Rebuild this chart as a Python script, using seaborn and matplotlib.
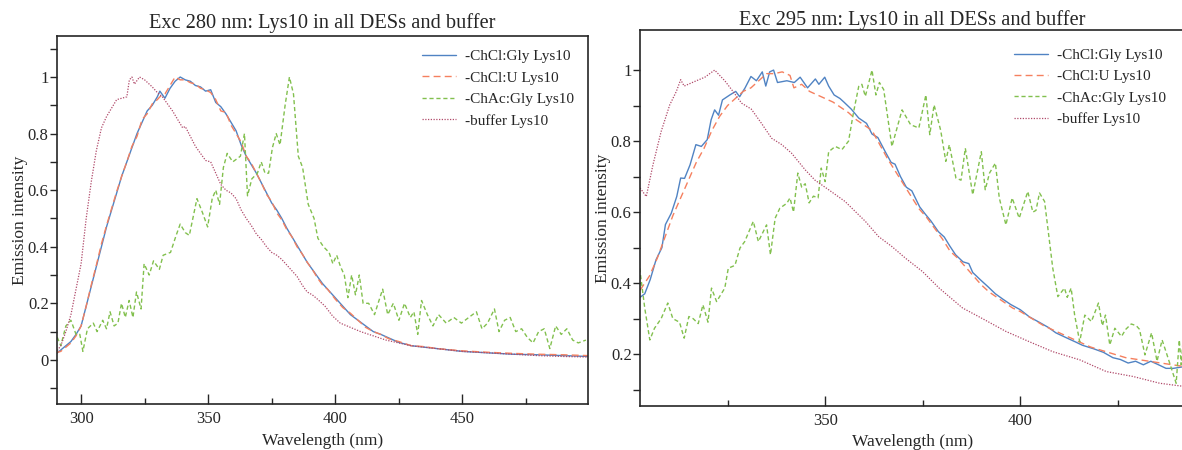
# %%
import numpy as np
import pandas as pd
import matplotlib
matplotlib.use("Agg")
import matplotlib.pyplot as plt
from matplotlib.ticker import FixedLocator, FuncFormatter
import seaborn as sns

# ---- Exc 280 nm (left panel) ----
wl_280 = [290, 292, 294, 296, 298, 300, 302, 304, 306, 308, 310, 312, 314, 316, 318, 320,
          322, 324, 326, 328, 330, 331, 333, 335, 337, 339, 341, 343, 345, 347, 349, 351,
          353, 355, 357, 359, 361, 363, 365, 367, 369, 371, 373, 375, 377, 379, 381, 383,
          385, 387, 389, 391, 393, 395, 397, 400, 403, 406, 409, 412, 415, 418, 421, 425,
          430, 435, 440, 445, 450, 460, 470, 480, 490, 500]
chcl_gly_280 = [0.02, 0.035, 0.05, 0.065, 0.09, 0.12, 0.19, 0.26, 0.33, 0.40, 0.47, 0.53, 0.59,
                0.65, 0.70, 0.75, 0.80, 0.84, 0.88, 0.90, 0.93, 0.95, 0.925, 0.96, 0.985, 1.0,
                0.99, 0.985, 0.97, 0.965, 0.95, 0.955, 0.91, 0.895, 0.87, 0.84, 0.81, 0.76,
                0.72, 0.69, 0.66, 0.625, 0.59, 0.555, 0.53, 0.50, 0.465, 0.435, 0.405, 0.375,
                0.345, 0.32, 0.295, 0.27, 0.25, 0.22, 0.19, 0.16, 0.14, 0.12, 0.10, 0.09,
                0.078, 0.062, 0.05, 0.045, 0.04, 0.035, 0.03, 0.025, 0.02, 0.018, 0.015, 0.012]
chcl_u_280 = [0.025, 0.03, 0.045, 0.06, 0.085, 0.12, 0.19, 0.265, 0.335, 0.41, 0.475, 0.535,
              0.595, 0.65, 0.70, 0.755, 0.79, 0.85, 0.87, 0.905, 0.92, 0.93, 0.94, 0.97, 1.0,
              0.99, 0.99, 0.98, 0.975, 0.96, 0.955, 0.945, 0.92, 0.88, 0.875, 0.83, 0.80,
              0.77, 0.72, 0.695, 0.66, 0.625, 0.585, 0.56, 0.52, 0.495, 0.46, 0.435, 0.40,
              0.375, 0.345, 0.32, 0.29, 0.265, 0.25, 0.215, 0.185, 0.165, 0.14, 0.115, 0.10,
              0.09, 0.075, 0.065, 0.05, 0.047, 0.04, 0.036, 0.032, 0.027, 0.023, 0.02, 0.018,
              0.015]
wl_280_chac = [290.6, 292, 294, 296, 298, 299.5, 300.7, 302.5, 304.8, 306.3, 308.5, 310, 311.4,
               313, 314.5, 315.9, 317.4, 318.9, 320.4, 321.8, 323.6, 324.8, 326.8, 328.5,
               330.8, 332.3, 335.2, 337.4, 339, 341, 342.6, 345.6, 347.8, 349.8, 351.6, 353,
               354.5, 356, 357.5, 359.7, 361.2, 362.7, 364.3, 365.5, 367.2, 369.4, 370.9,
               372.4, 373.8, 375.3, 376.8, 378.3, 380.3, 382, 383.6, 385.5, 387.2, 389.4,
               391.7, 393.2, 395.4, 397.6, 399.1, 400.6, 402.1, 403.6, 405, 406.5, 408, 409.5,
               411, 413.2, 415.5, 416.9, 418.7, 420.7, 422.9, 425.1, 427.3, 429.6, 431, 432.5,
               434, 436.3, 438.5, 440.7, 443.7, 446.7, 449.7, 452.6, 455.6, 457.8, 460, 462.7,
               464.5, 466.7, 468.9, 471.1, 473.4, 475.6, 477.9, 480.1, 482.3, 484.5, 486.8,
               489, 491.2, 493.5, 495.7, 498.7]
chac_gly_280 = [0.08, 0.05, 0.12, 0.14, 0.09, 0.09, 0.03, 0.11, 0.13, 0.10, 0.14, 0.11, 0.17,
                0.12, 0.13, 0.20, 0.15, 0.21, 0.15, 0.24, 0.18, 0.34, 0.30, 0.35, 0.32, 0.37,
                0.38, 0.44, 0.48, 0.45, 0.44, 0.57, 0.52, 0.47, 0.57, 0.60, 0.55, 0.68, 0.73,
                0.70, 0.71, 0.72, 0.80, 0.58, 0.64, 0.66, 0.70, 0.66, 0.66, 0.75, 0.80, 0.76,
                0.90, 1.0, 0.94, 0.72, 0.68, 0.55, 0.50, 0.43, 0.40, 0.38, 0.34, 0.37, 0.33,
                0.30, 0.22, 0.30, 0.23, 0.30, 0.20, 0.20, 0.16, 0.20, 0.25, 0.16, 0.20, 0.14,
                0.20, 0.15, 0.17, 0.09, 0.21, 0.16, 0.12, 0.16, 0.13, 0.15, 0.13, 0.15, 0.17,
                0.11, 0.13, 0.18, 0.10, 0.14, 0.15, 0.10, 0.11, 0.08, 0.06, 0.10, 0.11, 0.04,
                0.12, 0.09, 0.11, 0.07, 0.06, 0.07]
wl_280_buf = [290, 292, 294, 296, 298, 300, 302, 304, 306, 308, 310, 312, 314, 316, 318, 319,
              320, 321, 323, 325, 328, 330, 332, 334, 336, 338, 340, 341, 343, 345, 347, 349,
              351, 353, 355, 357, 359, 361, 363, 365, 367, 369, 371, 373, 375, 377, 379, 381,
              383, 385, 387, 389, 391, 393, 396, 399, 402, 406, 410, 415, 420, 425, 430, 435,
              440, 450, 460, 470, 480, 490, 500]
buffer_280 = [0.025, 0.05, 0.10, 0.16, 0.25, 0.34, 0.50, 0.63, 0.74, 0.82, 0.86, 0.89, 0.92,
              0.925, 0.93, 0.99, 1.0, 0.975, 1.0, 0.99, 0.965, 0.945, 0.93, 0.905, 0.88, 0.85,
              0.82, 0.825, 0.79, 0.755, 0.73, 0.705, 0.70, 0.66, 0.62, 0.60, 0.59, 0.57, 0.53,
              0.50, 0.475, 0.445, 0.425, 0.40, 0.38, 0.37, 0.355, 0.335, 0.315, 0.295, 0.265,
              0.24, 0.23, 0.215, 0.19, 0.155, 0.13, 0.115, 0.10, 0.085, 0.07, 0.06, 0.05,
              0.045, 0.04, 0.03, 0.025, 0.02, 0.015, 0.012, 0.01]

# ---- Exc 295 nm (right panel) ----
wl_295_gly = [302.6, 303.8, 305.2, 306.7, 308.2, 309.1, 310.6, 312, 313, 314, 315.4, 316.9,
              318.3, 319.8, 320.8, 321.7, 322.7, 323.7, 325.6, 327.1, 328.1, 329.5, 331, 332.4,
              333.9, 334.8, 335.8, 336.8, 337.8, 340.2, 342.1, 343.6, 345.5, 347.5, 348.4,
              349.9, 350.9, 352.3, 353.8, 354.8, 356.7, 358.6, 360.6, 362, 363.5, 365.4, 366.9,
              367.9, 369.3, 370.8, 372.2, 374.2, 375.6, 377.1, 379, 380.5, 381.9, 383.4, 385.3,
              386.8, 387.8, 389.7, 391.7, 393.6, 395.5, 397.5, 400, 402.3, 404.8, 407.2, 409.1,
              412, 414, 415.9, 418.8, 421.3, 423.7, 425.6, 427.6, 429.5, 431.5, 433.4, 435.4,
              437.3, 439.2, 442]
chcl_gly_295 = [0.36, 0.37, 0.41, 0.466, 0.50, 0.565, 0.597, 0.644, 0.696, 0.695, 0.733, 0.79,
                0.785, 0.804, 0.86, 0.888, 0.873, 0.916, 0.93, 0.94, 0.925, 0.95, 0.982, 0.97,
                0.995, 0.955, 0.995, 1.0, 0.965, 0.97, 0.965, 0.98, 0.95, 0.975, 0.96, 0.98,
                0.955, 0.93, 0.92, 0.91, 0.89, 0.865, 0.85, 0.82, 0.81, 0.77, 0.74, 0.735, 0.70,
                0.67, 0.66, 0.615, 0.595, 0.575, 0.545, 0.53, 0.505, 0.48, 0.46, 0.455, 0.43,
                0.41, 0.39, 0.37, 0.355, 0.34, 0.325, 0.305, 0.29, 0.275, 0.26, 0.245, 0.235,
                0.225, 0.215, 0.205, 0.19, 0.185, 0.175, 0.18, 0.17, 0.18, 0.17, 0.16, 0.16,
                0.165]
wl_295_u = [302.6, 305, 307, 309, 311, 313, 315, 317, 319, 321, 323, 325, 327, 329, 331, 333,
            335, 337, 339, 341, 342, 344, 346, 348, 350, 352, 354, 356, 358, 360, 362, 364,
            366, 368, 370, 372, 374, 376, 378, 380, 382, 384, 386, 388, 390, 392, 394, 396,
            398, 400, 403, 406, 409, 412, 415, 418, 421, 424, 427, 430, 433, 436, 439, 442]
chcl_u_295 = [0.38, 0.42, 0.47, 0.53, 0.59, 0.64, 0.69, 0.74, 0.78, 0.83, 0.87, 0.90, 0.92,
              0.94, 0.95, 0.97, 0.99, 0.99, 0.995, 0.985, 0.95, 0.96, 0.94, 0.93, 0.92, 0.91,
              0.895, 0.88, 0.86, 0.845, 0.83, 0.79, 0.75, 0.715, 0.68, 0.645, 0.61, 0.585,
              0.555, 0.525, 0.49, 0.47, 0.445, 0.42, 0.395, 0.375, 0.36, 0.345, 0.33, 0.32,
              0.30, 0.28, 0.265, 0.25, 0.235, 0.22, 0.21, 0.20, 0.19, 0.185, 0.18, 0.175,
              0.17, 0.165]
wl_295_chac = [302.5, 303.8, 305.1, 306.3, 308, 309.7, 311, 312.7, 313.9, 315.1, 316.2, 317.5,
               318.7, 320, 320.9, 322.2, 324.3, 325.2, 326.9, 328.2, 329.4, 331.6, 332.9, 335,
               336, 337.2, 338.4, 340.2, 341, 341.9, 343, 344, 344.9, 345.9, 347, 348.2, 349,
               350, 350.9, 352.6, 354.3, 356, 357.3, 358.6, 359.4, 360.3, 362, 363, 363.9, 365,
               367.1, 369.7, 371.9, 374, 375.8, 376.8, 377.9, 379.6, 380.9, 381.8, 383.5,
               384.8, 385.9, 387.8, 390, 391, 392.1, 393.6, 394.6, 396.3, 397.9, 399.7, 401.9,
               403.2, 404, 404.9, 406.2, 408.3, 409.6, 411.3, 412, 413, 413.9, 415.2, 416.5,
               418.2, 420, 421, 421.8, 422.9, 424.2, 425.9, 427, 428.4, 429.7, 430.5, 431.9,
               433.6, 435, 436.3, 437.5, 439.9, 440.7, 441.2, 442]
chac_gly_295 = [0.442, 0.33, 0.24, 0.273, 0.30, 0.344, 0.30, 0.29, 0.245, 0.306, 0.30, 0.286,
                0.339, 0.29, 0.386, 0.348, 0.386, 0.442, 0.45, 0.499, 0.517, 0.574, 0.517,
                0.564, 0.48, 0.583, 0.611, 0.625, 0.64, 0.60, 0.71, 0.67, 0.68, 0.626, 0.645,
                0.64, 0.724, 0.686, 0.77, 0.785, 0.776, 0.80, 0.883, 0.954, 0.96, 0.926, 1.0,
                0.93, 0.965, 0.945, 0.785, 0.888, 0.846, 0.837, 0.93, 0.818, 0.902, 0.83,
                0.743, 0.79, 0.696, 0.69, 0.78, 0.649, 0.77, 0.663, 0.71, 0.738, 0.64, 0.564,
                0.64, 0.583, 0.658, 0.60, 0.605, 0.654, 0.63, 0.442, 0.362, 0.386, 0.36, 0.386,
                0.31, 0.235, 0.31, 0.292, 0.344, 0.28, 0.31, 0.226, 0.273, 0.25, 0.27, 0.285,
                0.28, 0.27, 0.198, 0.26, 0.18, 0.24, 0.20, 0.118, 0.24, 0.17, 0.29]
wl_295_buf = [302.6, 304.2, 305.9, 308, 310.2, 311.9, 313, 313.9, 316.6, 319.2, 321.7, 324.3,
              326.4, 328.6, 331.1, 333.7, 336.3, 338.9, 341.4, 344.9, 347.4, 350.9, 355.1,
              360.3, 363.7, 367.1, 370.6, 374.9, 379.2, 385.2, 390.3, 396.3, 402.3, 408.3,
              415.2, 422, 428.9, 435.7, 442]
buffer_295 = [0.668, 0.644, 0.733, 0.827, 0.902, 0.94, 0.973, 0.955, 0.968, 0.98, 1.0, 0.97,
              0.94, 0.907, 0.89, 0.85, 0.808, 0.79, 0.766, 0.719, 0.69, 0.663, 0.63, 0.574,
              0.531, 0.503, 0.47, 0.433, 0.386, 0.33, 0.30, 0.264, 0.235, 0.207, 0.184, 0.151,
              0.137, 0.118, 0.109]

series_names = ["-ChCl:Gly Lys10", "-ChCl:U Lys10", "-ChAc:Gly Lys10", "-buffer Lys10"]
colors = ["#5083c3", "#f5805f", "#82c04e", "#b04a6a"]
styles = ["-", (0, (5, 3)), (0, (3, 2)), (0, (1, 1.2))]
widths = [1.0, 1.0, 1.0, 0.9]

panels = [
    ("Exc 280 nm: Lys10 in all DESs and buffer",
     [(wl_280, chcl_gly_280), (wl_280, chcl_u_280), (wl_280_chac, chac_gly_280),
      (wl_280_buf, buffer_280)]),
    ("Exc 295 nm: Lys10 in all DESs and buffer",
     [(wl_295_gly, chcl_gly_295), (wl_295_u, chcl_u_295), (wl_295_chac, chac_gly_295),
      (wl_295_buf, buffer_295)]),
]

sns.set_style("ticks")
plt.rcParams["font.family"] = ["Liberation Serif", "DejaVu Serif"]

fig = plt.figure(figsize=(11.82, 4.5), dpi=100)
ax1 = fig.add_axes([0.0482, 0.1022, 0.4492, 0.8178])
ax2 = fig.add_axes([0.5415, 0.0978, 0.4605, 0.8356])

for ax, (title, data) in zip([ax1, ax2], panels):
    for (x, y), name, c, ls, lw in zip(data, series_names, colors, styles, widths):
        sns.lineplot(x=x, y=y, ax=ax, color=c, linestyle=ls, linewidth=lw, label=name)
    ax.set_xlabel("Wavelength (nm)", fontsize=12.5)
    ax.set_ylabel("Emission intensity", fontsize=12.5, labelpad=0)
    ax.tick_params(axis="x", which="major", direction="in", length=7, width=1, labelsize=12, pad=5)
    ax.tick_params(axis="x", which="minor", direction="in", length=4, width=1)
    ax.tick_params(axis="y", which="both", direction="out", length=5, width=1, labelsize=12, pad=1)
    ax.yaxis.set_major_formatter(FuncFormatter(lambda v, p: f"{v:g}"))
    for s in ax.spines.values():
        s.set_linewidth(1.2)

# left panel scales
ax1.set_xlim(290.5, 499.5)
ax1.set_ylim(-0.156, 1.145)
ax1.xaxis.set_major_locator(FixedLocator([300, 350, 400, 450]))
ax1.xaxis.set_minor_locator(FixedLocator([325, 375, 425, 475]))
ax1.yaxis.set_major_locator(FixedLocator([0, 0.2, 0.4, 0.6, 0.8, 1.0]))
ax1.yaxis.set_minor_locator(FixedLocator([-0.1, 0.1, 0.3, 0.5, 0.7, 0.9, 1.1]))
ax1.set_title(panels[0][0], fontsize=14.7, pad=6)
ax1.legend(loc="upper right", frameon=False, fontsize=11, handlelength=2.2,
           handletextpad=0.6, labelspacing=0.5, borderaxespad=0.5)

# right panel scales
ax2.set_xlim(302.6, 442)
ax2.set_ylim(0.054, 1.113)
ax2.xaxis.set_major_locator(FixedLocator([350, 400]))
ax2.xaxis.set_minor_locator(FixedLocator([325, 375, 425]))
ax2.yaxis.set_major_locator(FixedLocator([0.2, 0.4, 0.6, 0.8, 1.0]))
ax2.yaxis.set_minor_locator(FixedLocator([0.1, 0.3, 0.5, 0.7, 0.9]))
ax2.set_title(panels[1][0], fontsize=14.7, pad=2)
ax2.legend(loc="upper right", frameon=False, fontsize=11, handlelength=2.2,
           handletextpad=0.6, labelspacing=0.5, borderaxespad=0.8)

fig.savefig("out.png", dpi=100)
